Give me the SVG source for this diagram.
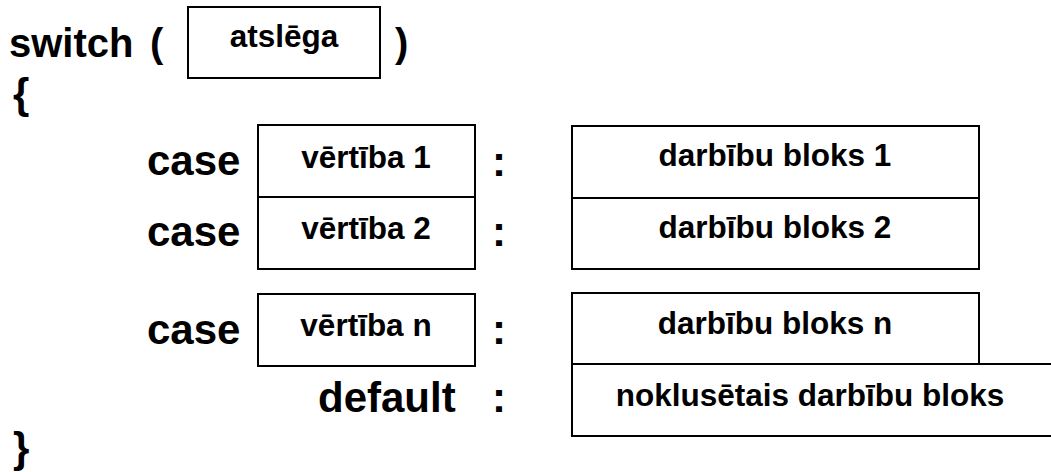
<svg xmlns="http://www.w3.org/2000/svg" width="1051" height="472" viewBox="0 0 1051 472">
<style>
text{font-family:"Liberation Sans",Arial,sans-serif;font-weight:bold;fill:#000}
.big{font-size:42px}
.sw{font-size:40px}
.sm{font-size:31.5px;text-anchor:middle}
.box{fill:#fff;stroke:#000;stroke-width:2}
</style>
<rect width="1051" height="472" fill="#fff"/>
<g id="header">
<text class="sw" x="9" y="57">switch</text>
<text class="sw" x="150" y="57">(</text>
<text class="sw" x="395" y="57">)</text>
<text class="big" x="13" y="108">{</text>
<text class="big" x="13" y="462">}</text>
</g>
<g id="key">
<rect class="box" x="188" y="7" width="192" height="71"/>
<text class="sm" x="284" y="47">atslēga</text>
</g>
<g id="row1">
<text class="big" x="147" y="175">case</text>
<rect class="box" x="258" y="125" width="217" height="72"/>
<text class="sm" x="366" y="168">vērtība 1</text>
<text class="big" x="492" y="176">:</text>
<rect class="box" x="572" y="126" width="407" height="72"/>
<text class="sm" x="775" y="166">darbību bloks 1</text>
</g>
<g id="row2">
<text class="big" x="147" y="246">case</text>
<rect class="box" x="258" y="197" width="217" height="72"/>
<text class="sm" x="366" y="239">vērtība 2</text>
<text class="big" x="492" y="246">:</text>
<rect class="box" x="572" y="198" width="407" height="71"/>
<text class="sm" x="775" y="238">darbību bloks 2</text>
</g>
<g id="rowN">
<text class="big" x="147" y="344">case</text>
<rect class="box" x="258" y="294" width="217" height="72"/>
<text class="sm" x="366" y="336">vērtība n</text>
<text class="big" x="492" y="344">:</text>
<rect class="box" x="572" y="293" width="407" height="71"/>
<text class="sm" x="775" y="334">darbību bloks n</text>
</g>
<g id="default">
<text class="big" x="318" y="412">default</text>
<text class="big" x="492" y="412">:</text>
<rect class="box" x="572" y="364" width="500" height="72"/>
<text class="sm" x="810" y="406">noklusētais darbību bloks</text>
</g>
<g id="connectors"></g>
</svg>
